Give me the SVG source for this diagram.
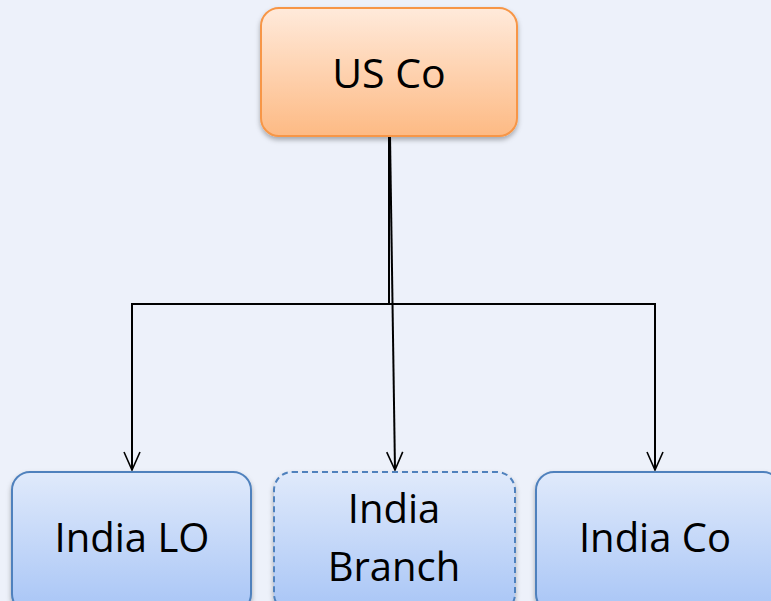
<svg xmlns="http://www.w3.org/2000/svg" width="771" height="601" viewBox="0 0 771 601">
<defs>
<linearGradient id="gOrange" x1="0" y1="0" x2="0" y2="1">
<stop offset="0" stop-color="#ffeadb"/>
<stop offset="1" stop-color="#fdba84"/>
</linearGradient>
<linearGradient id="gBlue" x1="0" y1="0" x2="0" y2="1">
<stop offset="0" stop-color="#e0eafb"/>
<stop offset="1" stop-color="#a8c5f6"/>
</linearGradient>
<filter id="shadow" x="-10%" y="-10%" width="120%" height="130%">
<feDropShadow dx="0" dy="3" stdDeviation="2.5" flood-color="#000" flood-opacity="0.3"/>
</filter>
<marker id="arrow" viewBox="0 0 20 18" refX="19" refY="9" markerWidth="20" markerHeight="18" markerUnits="userSpaceOnUse" orient="auto">
<path d="M1,1 L19,9 L1,17" fill="none" stroke="#000" stroke-width="1.6"/>
</marker>
</defs>
<style>
.orange{fill:url(#gOrange);stroke:#f79646;stroke-width:2;filter:url(#shadow)}
.blue{fill:url(#gBlue);stroke:#4f81bd;stroke-width:2;filter:url(#shadow)}
.dashed{stroke-dasharray:6 4}
.label{font-family:"Open Sans","Liberation Sans",sans-serif;font-size:40px;fill:#000;text-anchor:middle}
.conn{fill:none;stroke:#000;stroke-width:2}
</style>
<rect x="0" y="0" width="771" height="601" fill="#edf1fa"/>
<g id="connectors">
<polyline class="conn" points="389,136 389,304"/>
<polyline class="conn" points="389,304 132,304 132,470" marker-end="url(#arrow)"/>
<polyline class="conn" points="389,304 655,304 655,470" marker-end="url(#arrow)"/>
<line class="conn" x1="390" y1="136" x2="395" y2="470" marker-end="url(#arrow)"/>
</g>
<g id="us-co">
<rect class="orange" x="261" y="8" width="256" height="128" rx="18"/>
<text class="label" x="389" y="88" style="font-size:41px">US Co</text>
</g>
<g id="india-lo">
<rect class="blue" x="12" y="472" width="239" height="140" rx="18"/>
<text class="label" x="132" y="552">India LO</text>
</g>
<g id="india-branch">
<rect class="blue dashed" x="274" y="472" width="241" height="140" rx="18"/>
<text class="label" x="394" y="523">India</text>
<text class="label" x="394" y="581">Branch</text>
</g>
<g id="india-co">
<rect class="blue" x="536" y="472" width="245" height="140" rx="18"/>
<text class="label" x="655" y="552">India Co</text>
</g>
</svg>
